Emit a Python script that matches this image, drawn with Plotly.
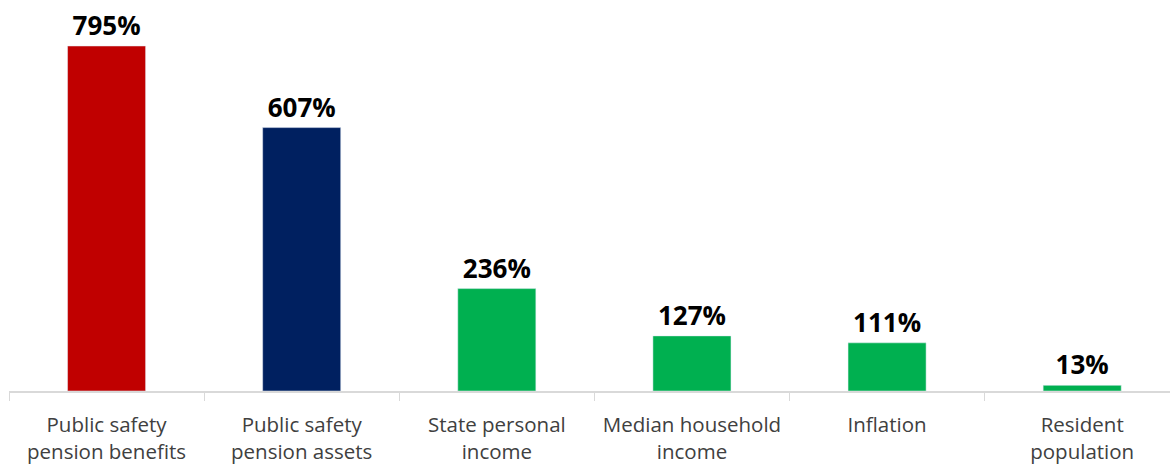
import plotly.graph_objects as go

categories = ["Public safety<br>pension benefits", "Public safety<br>pension assets",
              "State personal<br>income", "Median household<br>income",
              "Inflation", "Resident<br>population"]
values = [795, 607, 236, 127, 111, 13]
colors = ["#C00000", "#002060", "#00B050", "#00B050", "#00B050", "#00B050"]
labels = [f"{v}%" for v in values]

fig = go.Figure(go.Bar(
    x=categories, y=values, marker_color=colors, width=0.4,
    text=labels, textposition="outside", cliponaxis=False,
    textfont=dict(family="Open Sans", size=26, color="#000000", weight="bold"),
))
fig.update_layout(
    width=1170, height=470,
    margin=dict(l=9, r=0, t=0, b=79),
    plot_bgcolor="white", paper_bgcolor="white",
    showlegend=False,
    font=dict(family="Open Sans", size=20, color="#404040"),
)
fig.update_xaxes(
    range=[-0.5, 5.45], showline=True, linecolor="#d9d9d9", linewidth=1.5,
    ticks="outside", tickson="boundaries", ticklen=8, tickcolor="#d9d9d9",
    ticklabelstandoff=15,
    tickfont=dict(family="Open Sans", size=20.5, color="#404040"),
)
fig.update_yaxes(range=[0, 901], visible=False)
fig.write_html("out.html")
